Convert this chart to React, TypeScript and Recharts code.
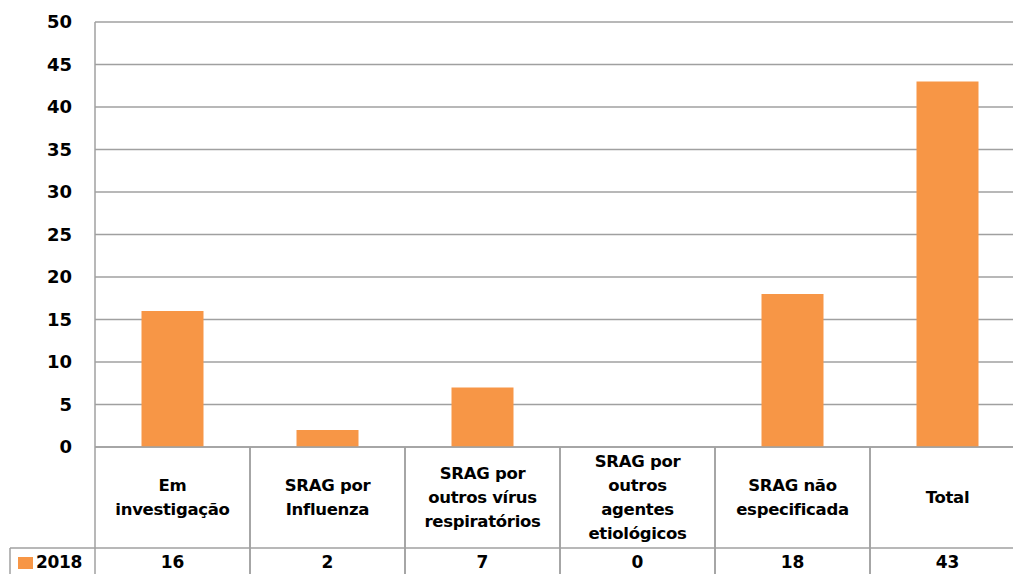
import React from 'react';
import { BarChart, Bar, XAxis, YAxis, CartesianGrid } from 'recharts';

const categories = [
  'Em\ninvestigação',
  'SRAG por\nInfluenza',
  'SRAG por\noutros vírus\nrespiratórios',
  'SRAG por\noutros\nagentes\netiológicos',
  'SRAG não\nespecificada',
  'Total',
];
const values2018 = [16, 2, 7, 0, 18, 43];
const yTicks = [0, 5, 10, 15, 20, 25, 30, 35, 40, 45, 50];
const seriesName = '2018';

const data = categories.map((c, i) => ({ name: c, value: values2018[i] }));

const LINE = '#a0a0a0';
const ORANGE = '#F79646';
const FONT = '"DejaVu Sans", Verdana, sans-serif';
const BAND = 155;

function TableTick(props: any) {
  const { x, y, payload, index } = props;
  const lines: string[] = String(payload.value).split('\n');
  const left = x - BAND / 2;
  const right = x + BAND / 2;
  const rowY = y + 101;
  const lh = 24;
  const startY = y + 50 - ((lines.length - 1) * lh) / 2;
  return (
    <g>
      <line x1={left} y1={y} x2={left} y2={y + 140} stroke={LINE} strokeWidth={1.5} />
      <line x1={right} y1={y} x2={right} y2={y + 140} stroke={LINE} strokeWidth={1.5} />
      <line x1={left} y1={rowY} x2={right} y2={rowY} stroke={LINE} strokeWidth={1.5} />
      {lines.map((l, i) => (
        <text
          key={i}
          x={x}
          y={startY + i * lh}
          textAnchor="middle"
          dominantBaseline="central"
          fontFamily={FONT}
          fontWeight="bold"
          fontSize={16.5}
          letterSpacing={-0.3}
          fill="#000"
        >
          {l}
        </text>
      ))}
      <text
        x={x}
        y={rowY + 14}
        textAnchor="middle"
        dominantBaseline="central"
        fontFamily={FONT}
        fontWeight="bold"
        fontSize={17}
        fill="#000"
      >
        {values2018[index]}
      </text>
      {index === 0 && (
        <g>
          <line x1={10} y1={rowY} x2={left} y2={rowY} stroke={LINE} strokeWidth={1.5} />
          <line x1={10} y1={rowY} x2={10} y2={y + 140} stroke={LINE} strokeWidth={1.5} />
          <rect x={18} y={rowY + 9} width={15} height={12} fill={ORANGE} />
          <text
            x={36}
            y={rowY + 14}
            dominantBaseline="central"
            fontFamily={FONT}
            fontWeight="bold"
            fontSize={17}
            letterSpacing={-0.3}
            fill="#000"
          >
            {seriesName}
          </text>
        </g>
      )}
    </g>
  );
}

export default function App() {
  return (
    <div style={{ position: 'absolute', left: 0, top: 0, width: 1013, height: 574, overflow: 'hidden', background: '#fff' }}>
      <BarChart
        width={1040}
        height={580}
        data={data}
        margin={{ top: 22, right: 15, left: 0, bottom: 0 }}
        barCategoryGap="30%"
      >
        <CartesianGrid vertical={false} stroke={LINE} strokeWidth={1.5} />
        <YAxis
          width={95}
          domain={[0, 50]}
          ticks={yTicks}
          interval={0}
          tickLine={false}
          tickSize={0}
          tickMargin={23}
          axisLine={{ stroke: LINE, strokeWidth: 1.5 }}
          tick={{ fill: '#000', fontFamily: FONT, fontWeight: 'bold', fontSize: 18 }}
        />
        <XAxis
          dataKey="name"
          height={133}
          interval={0}
          tickLine={false}
          tickSize={0}
          tickMargin={0}
          axisLine={{ stroke: LINE, strokeWidth: 1.5 }}
          tick={<TableTick />}
        />
        <Bar dataKey="value" name={seriesName} fill={ORANGE} isAnimationActive={false} />
      </BarChart>
    </div>
  );
}
